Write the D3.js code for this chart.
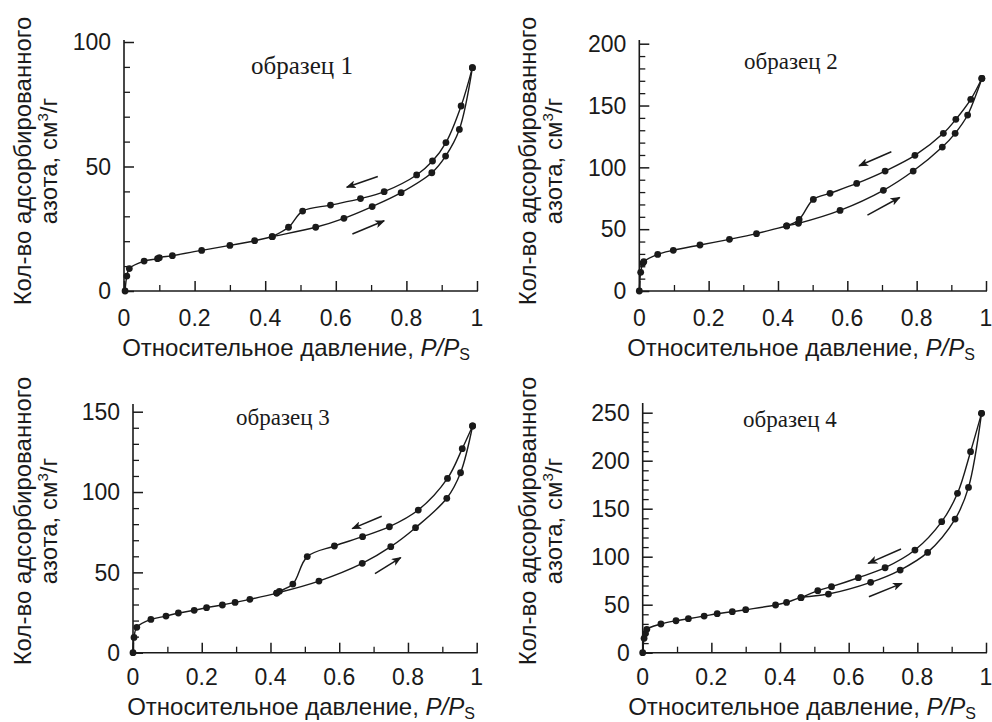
<!DOCTYPE html>
<html><head><meta charset="utf-8">
<script src="https://cdn.jsdelivr.net/npm/d3@7"></script>
<style>
html,body{margin:0;padding:0;background:#fff;}
svg{display:block;}
</style></head><body>
<svg id="chart" width="992" height="722"></svg>
<script>
// ---------- data ----------
const panelNames = ["образец 1", "образец 2", "образец 3", "образец 4"];
const xTickValues = [0, 0.2, 0.4, 0.6, 0.8, 1];
const xTickLabels = ["0", "0.2", "0.4", "0.6", "0.8", "1"];
const yTicks1 = [0, 50, 100];
const yTicks2 = [0, 50, 100, 150, 200];
const yTicks3 = [0, 50, 100, 150];
const yTicks4 = [0, 50, 100, 150, 200, 250];

const ads1 = [[0.003,0],[0.008,6],[0.015,9],[0.057,12],[0.095,13],[0.10,13.4],[0.137,14.2],[0.22,16.3],[0.30,18.3],[0.37,20.2],[0.42,21.8],[0.543,25.6],[0.623,29.2],[0.703,33.9],[0.785,39.5],[0.872,47.5],[0.911,54.2],[0.95,64.9],[0.987,89.7]];
const des1 = [[0.987,89.7],[0.955,74.3],[0.912,59.6],[0.874,52.2],[0.829,46.6],[0.737,39.9],[0.670,37.1],[0.585,34.5],[0.506,32.1],[0.466,25.6],[0.42,21.8]];
const ads2 = [[0,0],[0.004,15.1],[0.01,22.4],[0.013,23.7],[0.053,29.6],[0.098,32.9],[0.175,37.2],[0.26,41.8],[0.338,46.4],[0.425,52.6],[0.459,54.7],[0.579,65.2],[0.704,81.4],[0.79,97],[0.874,116.4],[0.911,127.5],[0.947,142.3],[0.988,171.9]];
const des2 = [[0.988,171.9],[0.956,155],[0.913,138.8],[0.877,127.5],[0.795,109.7],[0.709,97],[0.627,87],[0.55,79],[0.502,74.1],[0.461,57.9],[0.425,52.6]];
const ads3 = [[0,0],[0.003,9.5],[0.011,15.8],[0.052,20.7],[0.096,22.8],[0.132,24.7],[0.178,26.4],[0.214,28],[0.26,29.7],[0.297,31.3],[0.34,33.2],[0.418,37.1],[0.541,44.6],[0.667,55.6],[0.75,66],[0.822,77.8],[0.913,96.1],[0.953,112],[0.988,141.1]];
const des3 = [[0.988,141.1],[0.958,127],[0.915,108.5],[0.83,88.8],[0.746,78.4],[0.668,72.2],[0.586,66.4],[0.507,59.8],[0.465,42.7],[0.426,38.2],[0.418,37.1]];
const ads4 = [[0,0],[0.004,15],[0.008,20],[0.012,24.3],[0.053,29.9],[0.097,33.3],[0.133,35.4],[0.179,38.2],[0.217,40.6],[0.261,42.7],[0.3,44.8],[0.387,49.7],[0.419,52.4],[0.461,57.3],[0.541,61.1],[0.664,73.3],[0.75,86.1],[0.83,104.5],[0.91,139.2],[0.949,172.2],[0.987,249.3]];
const des4 = [[0.987,249.3],[0.955,209.4],[0.917,166],[0.871,136.5],[0.793,106.9],[0.706,88.5],[0.628,78.1],[0.55,68.8],[0.51,64.6],[0.461,57.3]];

// arrows in data units: [x1,y1,x2,y2]
const arrows1 = [[0.719,46.0,0.631,41.7],[0.647,22.9,0.737,28.2]];
const arrows2 = [[0.727,112.6,0.634,101.3],[0.658,61.4,0.751,75.6]];
const arrows3 = [[0.7236,84.9,0.638,77.2],[0.704,49.2,0.779,59.2]];
const arrows4 = [[0.7525,108,0.657,93.1],[0.659,58.3,0.755,72.2]];

// ---------- layout ----------
const layout = [
  {left:124, right:477, y0:291, yTopTick:42, axisTop:40, yMaxTick:100, label:{x:302,y:74,size:25}, ytitle:{x1:31,x2:57,cy:161}, xtitle:{cx:296,y:356}, tickY:326},
  {left:639.3, right:986, y0:291, yTopTick:43.7, axisTop:40, yMaxTick:200, label:{x:791,y:69,size:23}, ytitle:{x1:536,x2:562,cy:161}, xtitle:{cx:801,y:356}, tickY:326},
  {left:133, right:476.7, y0:652.7, yTopTick:411.7, axisTop:404, yMaxTick:150, label:{x:283,y:425,size:23}, ytitle:{x1:31,x2:57,cy:521}, xtitle:{cx:301,y:715}, tickY:685},
  {left:642.7, right:986, y0:652.7, yTopTick:412.7, axisTop:403, yMaxTick:250, label:{x:790,y:427,size:23}, ytitle:{x1:536,x2:562,cy:521}, xtitle:{cx:802,y:715}, tickY:685}
];
const panelData = [
  {ads:ads1, des:des1, arrows:arrows1, yTicks:yTicks1},
  {ads:ads2, des:des2, arrows:arrows2, yTicks:yTicks2},
  {ads:ads3, des:des3, arrows:arrows3, yTicks:yTicks3},
  {ads:ads4, des:des4, arrows:arrows4, yTicks:yTicks4}
];

const svg = d3.select("#chart");
const ink = "#1a1a1a";
const sans = "'Liberation Sans', Arial, sans-serif";
const serif = "'Liberation Serif', 'Times New Roman', serif";

svg.append("defs").append("marker")
  .attr("id","ah").attr("markerUnits","userSpaceOnUse")
  .attr("viewBox","0 0 10 8").attr("refX",9).attr("refY",4)
  .attr("markerWidth",10).attr("markerHeight",8).attr("orient","auto")
  .append("path").attr("d","M0,0 L10,4 L0,8 L2.5,4 Z").attr("fill",ink);

panelData.forEach((pd, i) => {
  const L = layout[i];
  const x = d3.scaleLinear().domain([0,1]).range([L.left, L.right]);
  const y = d3.scaleLinear().domain([0, L.yMaxTick]).range([L.y0, L.yTopTick]);
  const g = svg.append("g").style("font-family", sans).style("fill", ink);

  const yMinor = d3.range(0, L.yMaxTick + 0.001, 10).filter(v => !pd.yTicks.includes(v));
  const xMinor = d3.range(0, 1.0001, 0.1).map(v => +v.toFixed(2)).filter(v => !xTickValues.some(t => Math.abs(t - v) < 1e-6));

  // y axis
  const ya = g.append("g").attr("transform",`translate(${L.left},0)`)
    .call(d3.axisRight(y).tickValues(pd.yTicks).tickSize(10).tickFormat(() => ""));
  ya.select(".domain").remove();
  ya.selectAll(".tick line").attr("stroke",ink).attr("stroke-width",1.5);
  const ym = g.append("g").attr("transform",`translate(${L.left},0)`)
    .call(d3.axisRight(y).tickValues(yMinor).tickSize(6).tickFormat(() => ""));
  ym.select(".domain").remove();
  ym.selectAll(".tick line").attr("stroke",ink).attr("stroke-width",1.3);
  g.append("line").attr("x1",L.left).attr("x2",L.left).attr("y1",L.y0).attr("y2",L.axisTop)
    .attr("stroke",ink).attr("stroke-width",1.6);
  g.selectAll(".ylab").data(pd.yTicks).join("text")
    .attr("x", L.left - 13).attr("y", d => y(d)).attr("dy","0.36em")
    .attr("text-anchor","end").attr("font-size",23).text(d => d);

  // x axis
  const xa = g.append("g").attr("transform",`translate(0,${L.y0})`)
    .call(d3.axisTop(x).tickValues(xTickValues).tickSize(10).tickFormat(() => ""));
  xa.select(".domain").remove();
  xa.selectAll(".tick line").attr("stroke",ink).attr("stroke-width",1.5);
  const xm = g.append("g").attr("transform",`translate(0,${L.y0})`)
    .call(d3.axisTop(x).tickValues(xMinor).tickSize(6).tickFormat(() => ""));
  xm.select(".domain").remove();
  xm.selectAll(".tick line").attr("stroke",ink).attr("stroke-width",1.3);
  g.append("line").attr("x1",L.left).attr("x2",L.right+1).attr("y1",L.y0).attr("y2",L.y0)
    .attr("stroke",ink).attr("stroke-width",1.6);
  g.selectAll(".xlab").data(xTickValues).join("text")
    .attr("x", d => x(d)).attr("y", L.tickY)
    .attr("text-anchor","middle").attr("font-size",23)
    .text((d,k) => xTickLabels[k]);

  // x title
  const xt = g.append("text").attr("x",L.xtitle.cx).attr("y",L.xtitle.y)
    .attr("text-anchor","middle").attr("font-size",24);
  xt.append("tspan").text("Относительное давление, ");
  xt.append("tspan").attr("font-style","italic").text("P/P");
  xt.append("tspan").attr("font-size",16).attr("dy",4).text("S");

  // y title (two lines)
  g.append("text").attr("transform",`translate(${L.ytitle.x1},${L.ytitle.cy}) rotate(-90)`)
    .attr("text-anchor","middle").attr("font-size",24).text("Кол-во адсорбированного");
  const yt2 = g.append("text").attr("transform",`translate(${L.ytitle.x2},${L.ytitle.cy}) rotate(-90)`)
    .attr("text-anchor","middle").attr("font-size",24);
  yt2.append("tspan").text("азота, см");
  yt2.append("tspan").attr("font-size",15).attr("dy",-9).text("3");
  yt2.append("tspan").attr("dy",9).text("/г");

  // panel label
  g.append("text").attr("x",L.label.x).attr("y",L.label.y).attr("text-anchor","middle")
    .style("font-family", serif).attr("font-size",L.label.size)
    .text(panelNames[i]);

  // curves
  const line = d3.line().x(d => x(d[0])).y(d => y(d[1])).curve(d3.curveCatmullRom.alpha(0.5));
  [pd.ads, pd.des].forEach(series => {
    g.append("path").attr("d", line(series)).attr("fill","none")
      .attr("stroke",ink).attr("stroke-width",1.4);
    g.selectAll(null).data(series).join("circle")
      .attr("cx", d => x(d[0])).attr("cy", d => y(d[1])).attr("r",3.4).attr("fill",ink);
  });

  // arrows
  g.selectAll(null).data(pd.arrows).join("line")
    .attr("x1", d => x(d[0])).attr("y1", d => y(d[1]))
    .attr("x2", d => x(d[2])).attr("y2", d => y(d[3]))
    .attr("stroke",ink).attr("stroke-width",1.5).attr("marker-end","url(#ah)");
});
</script>
</body></html>
